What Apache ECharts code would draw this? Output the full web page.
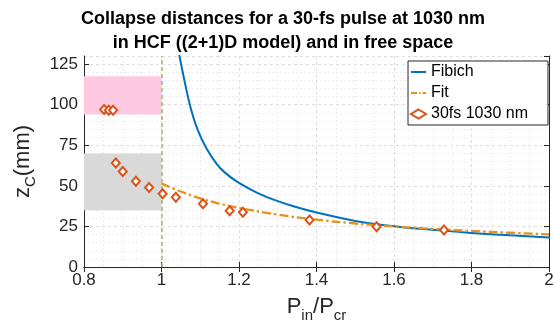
<!DOCTYPE html>
<html><head><meta charset="utf-8">
<script src="https://cdn.jsdelivr.net/npm/echarts@6/dist/echarts.min.js"></script>
<style>html,body{margin:0;padding:0;background:#fff}#c{width:554px;height:326px}</style>
</head><body><div id="c"></div>
<script>
const titleLines = ['Collapse distances for a 30-fs pulse at 1030 nm', 'in HCF ((2+1)D model) and in free space'];
const seriesNames = ['Fibich', 'Fit', '30fs 1030 nm'];
const xRange = [0.8, 2, 0.2];
const yRange = [0, 130, 25];

const fibichX = [1.046, 1.06, 1.077, 1.095, 1.116, 1.14, 1.163, 1.2, 1.25, 1.3, 1.35, 1.4, 1.5, 1.6, 1.7, 1.8, 1.9, 2.0];
const fibichY = [130.6, 114, 96.5, 83.5, 73.2, 64.3, 58.3, 51.8, 45.4, 40.6, 36.8, 33.6, 28.4, 25.1, 22.9, 21.0, 19.5, 18.2];

const fitX = [1.0, 1.05, 1.1, 1.15, 1.2, 1.3, 1.4, 1.5, 1.6, 1.7, 1.8, 1.9, 2.0];
const fitY = [51.5, 46.5, 42.3, 39.0, 36.4, 32.3, 29.2, 26.8, 25.0, 23.5, 22.2, 21.1, 20.1];

const measX = [0.852, 0.864, 0.875, 0.882, 0.900, 0.934, 0.968, 1.003, 1.037, 1.107, 1.176, 1.210, 1.382, 1.555, 1.729];
const measY = [97.1, 96.5, 96.5, 64.1, 58.9, 52.9, 49.0, 45.1, 43.0, 38.9, 34.7, 33.7, 29.0, 24.8, 22.8];

// shaded bands: [x0, x1, y0, y1]
const pinkBand = [0.8, 1.0, 94, 117.5];
const greyBand = [0.8, 1.0, 35, 70];
const criticalX = 1.0;

const zip = (xs, ys) => xs.map((x, i) => [x, ys[i]]);
const FONT = 'Liberation Sans, Arial, Helvetica, sans-serif';
const AX = '#262626';
const BLUE = '#0072BD', ORANGE = '#E8901C', RED = '#D95319';

const splitLine = { show: true, lineStyle: { color: '#dcdcdc', type: [3, 3], width: 1 } };
const minorSplitLine = { show: true, lineStyle: { color: '#ececec', type: [2, 2], width: 1 } };
const richName = {
  m: { fontFamily: FONT, fontSize: 22, lineHeight: 23, verticalAlign: 'top', color: AX },
  s: { fontFamily: FONT, fontSize: 15, lineHeight: 16, padding: [12, 0, 0, 0], verticalAlign: 'top', color: AX }
};

const chart = echarts.init(document.getElementById('c'), null, { renderer: 'canvas' });
chart.setOption({
  animation: false,
  backgroundColor: '#fff',
  title: {
    text: titleLines.join('\n'),
    left: 283, top: 7, textAlign: 'center', padding: 0,
    textStyle: { fontFamily: FONT, fontSize: 18, fontWeight: 'bold', lineHeight: 24, color: '#000' }
  },
  grid: { left: 84, right: 5, top: 56, bottom: 59, outerBoundsMode: 'none', containLabel: false },
  legend: {
    data: [
      { name: seriesNames[0], icon: 'path://M0,0H15V2H0Z' },
      { name: seriesNames[1], icon: 'path://M0,0H6V2H0Z M8,0H9.5V2H8Z M11.5,0H15V2H11.5Z' },
      { name: seriesNames[2] }
    ],
    orient: 'vertical', left: 408, top: 61,
    itemWidth: 15, itemHeight: 9, itemGap: 5,
    padding: [3, 20, 3, 2],
    backgroundColor: '#fff', borderColor: AX, borderWidth: 1, borderRadius: 0,
    textStyle: { fontFamily: FONT, fontSize: 16, color: '#000', lineHeight: 16 },
    z: 10
  },
  xAxis: [{
    type: 'value', min: xRange[0], max: xRange[1], interval: xRange[2], position: 'bottom',
    axisLine: { lineStyle: { color: AX, width: 1 } },
    axisTick: { inside: true, length: 5, lineStyle: { color: AX } },
    axisLabel: { fontFamily: FONT, fontSize: 17, color: AX, margin: 5 },
    splitLine: splitLine,
    minorTick: { show: false, splitNumber: 4 },
    minorSplitLine: minorSplitLine,
    name: '{m|P}{s|in}{m|/P}{s|cr}',
    nameLocation: 'middle', nameGap: 29,
    nameTextStyle: { fontFamily: FONT, color: AX, rich: richName }
  }, {
    type: 'value', min: xRange[0], max: xRange[1], interval: xRange[2], position: 'top',
    axisLine: { lineStyle: { color: AX, width: 1 } },
    axisTick: { inside: true, length: 5, lineStyle: { color: AX } },
    axisLabel: { show: false }, splitLine: { show: false }
  }],
  yAxis: [{
    type: 'value', min: yRange[0], max: yRange[1], interval: yRange[2], position: 'left',
    axisLine: { show: true, lineStyle: { color: AX, width: 1 } },
    axisTick: { show: true, inside: true, length: 5, lineStyle: { color: AX } },
    axisLabel: { fontFamily: FONT, fontSize: 17, color: AX, margin: 6, showMaxLabel: false },
    splitLine: splitLine,
    minorTick: { show: false, splitNumber: 5 },
    minorSplitLine: minorSplitLine,
    name: '{m|z}{s|C}{m|(mm)}',
    nameLocation: 'middle', nameGap: 46,
    nameTextStyle: { fontFamily: FONT, color: AX, rich: richName }
  }, {
    type: 'value', min: yRange[0], max: yRange[1], interval: yRange[2], position: 'right',
    axisLine: { show: true, lineStyle: { color: AX, width: 1 } },
    axisTick: { show: true, inside: true, length: 5, lineStyle: { color: AX } },
    axisLabel: { show: false }, splitLine: { show: false }
  }],
  series: [
    {
      name: '', type: 'line', data: [], silent: true,
      markArea: {
        silent: true, z: 1,
        data: [
          [{ coord: [pinkBand[0], pinkBand[2]], itemStyle: { color: '#FFC8E1' } }, { coord: [pinkBand[1], pinkBand[3]] }],
          [{ coord: [greyBand[0], greyBand[2]], itemStyle: { color: '#D9D9D9' } }, { coord: [greyBand[1], greyBand[3]] }]
        ]
      },
      markLine: {
        silent: true, symbol: 'none', label: { show: false },
        lineStyle: { color: '#93BD62', type: [4, 3], width: 1.5 },
        data: [{ xAxis: criticalX }]
      }
    },
    {
      name: seriesNames[0], type: 'line', data: zip(fibichX, fibichY),
      symbol: 'none', smooth: 0.5, clip: true, sampling: null,
      lineStyle: { color: BLUE, width: 2, cap: 'round', join: 'round' }, itemStyle: { color: BLUE }, z: 3
    },
    {
      name: seriesNames[1], type: 'line', data: zip(fitX, fitY),
      symbol: 'none', smooth: 0.5,
      lineStyle: { color: ORANGE, width: 2.3, type: [9, 3, 2.5, 3] }, itemStyle: { color: ORANGE }, z: 4
    },
    {
      name: seriesNames[2], type: 'scatter', data: zip(measX, measY),
      symbol: 'diamond', symbolSize: [8, 9],
      itemStyle: { color: '#fff', borderColor: RED, borderWidth: 2, opacity: 1 }, z: 5
    }
  ]
});
</script></body></html>
